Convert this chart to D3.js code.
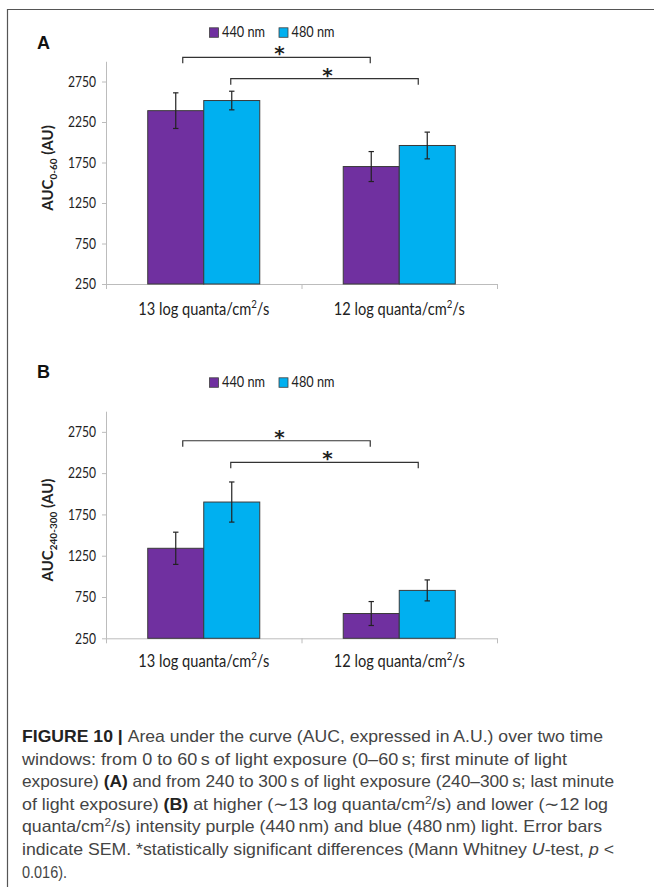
<!DOCTYPE html>
<html>
<head>
<meta charset="utf-8">
<script src="https://cdn.jsdelivr.net/npm/d3@7"></script>
<style>
  html, body { margin: 0; padding: 0; background: #fff; }
  svg { display: block; }
</style>
</head>
<body>
<div id="chart"></div>
<script>
// ---------------- DATA ----------------
const categories = ["13 log quanta/cm2/s", "12 log quanta/cm2/s"];
const series = ["440 nm", "480 nm"];
const seriesColors = ["#7030a0", "#00b0f0"];
const yTicks = [250, 750, 1250, 1750, 2250, 2750];

// Panel A: AUC 0-60
const meanA440 = [2390, 1700];
const meanA480 = [2515, 1960];
const semA440 = [220, 185];
const semA480 = [115, 165];
const bracketLevelsA = [3049, 2785];

// Panel B: AUC 240-300
const meanB440 = [1340, 550];
const meanB480 = [1900, 830];
const semB440 = [195, 145];
const semB480 = [243, 127];
const bracketLevelsB = [2642, 2381];

// significance comparisons: [categoryIndex, seriesIndex] endpoints
const bracketPairs = [
  [[0, 0], [1, 0]],
  [[0, 1], [1, 1]]
];

const captionLines = [
  [["b", "FIGURE 10 | "], ["n", "Area under the curve (AUC, expressed in A.U.) over two time"]],
  [["n", "windows: from 0 to 60\u2009s of light exposure (0\u201360\u2009s; first minute of light"]],
  [["n", "exposure) "], ["b", "(A)"], ["n", " and from 240 to 300\u2009s of light exposure (240\u2013300\u2009s; last minute"]],
  [["n", "of light exposure) "], ["b", "(B)"], ["n", " at higher (\u223C13 log quanta/cm"], ["sup", "2"], ["n", "/s) and lower (\u223C12 log"]],
  [["n", "quanta/cm"], ["sup", "2"], ["n", "/s) intensity purple (440\u2009nm) and blue (480\u2009nm) light. Error bars"]],
  [["n", "indicate SEM. *statistically significant differences (Mann Whitney "], ["i", "U"], ["n", "-test, "], ["i", "p"], ["n", " <"]],
  [["n", "0.016)."]]
];
const captionWidths = [581, 545, 592, 586, 580, 592, 45];

// ---------------- LAYOUT ----------------
const W = 654, H = 887;
const chartFont = "Lato, 'Open Sans', sans-serif";
const capFont = "'Liberation Sans', Arial, sans-serif";

const svg = d3.select("#chart").append("svg")
  .attr("width", W).attr("height", H);

// frame
svg.append("path")
  .attr("d", `M7.5,${H} V9.5 H${W}`)
  .attr("fill", "none").attr("stroke", "#555").attr("stroke-width", 1.2);

const x0 = d3.scaleBand().domain(categories).range([106, 497])
  .paddingInner(0.427).paddingOuter(0.2135);
const x1 = d3.scaleBand().domain(series).range([0, x0.bandwidth()]);

function drawPanel(p) {
  const g = svg.append("g");
  const y = d3.scaleLinear().domain([250, 3000]).range([p.bottom, p.top]);

  // panel letter
  g.append("text").attr("x", 37).attr("y", p.letterY)
    .attr("font-family", capFont).attr("font-weight", "bold")
    .attr("font-size", 18).attr("fill", "#111").text(p.letter);

  // legend
  const leg = g.append("g").attr("transform", `translate(0,${p.legendY})`);
  const legX = [209.5, 279];
  series.forEach((s, i) => {
    leg.append("rect").attr("x", legX[i]).attr("y", -9.5).attr("width", 9).attr("height", 9.5)
      .attr("fill", seriesColors[i]).attr("stroke", "#404040").attr("stroke-width", 0.8);
    leg.append("text").attr("x", legX[i] + 12.5).attr("y", 0)
      .attr("font-family", chartFont).attr("font-size", 16).attr("fill", "#222")
      .attr("textLength", 43).attr("lengthAdjust", "spacingAndGlyphs").text(s);
  });

  // y axis
  const ya = g.append("g").attr("transform", "translate(106,0)")
    .call(d3.axisLeft(y).tickValues(yTicks).tickFormat(d3.format("d"))
      .tickSize(4).tickSizeOuter(0).tickPadding(6));
  ya.select(".domain").attr("stroke", "#bcbcbc");
  ya.selectAll(".tick line").attr("stroke", "#bcbcbc");
  ya.selectAll(".tick text").attr("font-family", chartFont).attr("font-size", 15).attr("fill", "#222")
    .attr("textLength", d => String(d).length * 7).attr("lengthAdjust", "spacingAndGlyphs");

  // x axis (ticks at category boundaries)
  const bscale = d3.scaleLinear().domain([0, 2]).range(x0.range());
  const xa = g.append("g").attr("transform", `translate(0,${p.bottom})`)
    .call(d3.axisBottom(bscale).tickValues([0, 1, 2]).tickSize(5).tickSizeOuter(0).tickFormat(""));
  xa.select(".domain").attr("stroke", "#bcbcbc");
  xa.selectAll(".tick line").attr("stroke", "#bcbcbc");

  // category labels
  categories.forEach(c => {
    const m = c.match(/^(.*cm)2(\/s)$/);
    const t = g.append("text").attr("x", x0(c) + x0.bandwidth() / 2).attr("y", p.catY)
      .attr("text-anchor", "middle").attr("font-family", chartFont).attr("font-size", 17.5).attr("fill", "#222")
      .attr("textLength", 131).attr("lengthAdjust", "spacingAndGlyphs");
    t.append("tspan").text(m[1]);
    t.append("tspan").attr("font-size", 11.5).attr("dy", -7).text("2");
    t.append("tspan").attr("dy", 7).text(m[2]);
  });

  // y label
  const yl = g.append("text")
    .attr("transform", `translate(${p.ylabX},${p.ylabY}) rotate(-90)`)
    .attr("text-anchor", "middle").attr("font-family", chartFont).attr("font-weight", "bold")
    .attr("font-size", 15).attr("fill", "#222");
  yl.append("tspan").text("AUC");
  yl.append("tspan").attr("font-size", 10).attr("dy", 4).text(p.sub);
  yl.append("tspan").attr("dy", -4).text(" (AU)");

  // bars
  const rows = [];
  categories.forEach((c, ci) => {
    series.forEach((s, si) => {
      rows.push({ c, s, ci, si, v: p.means[si][ci], e: p.sems[si][ci] });
    });
  });
  g.selectAll("rect.bar").data(rows).join("rect").attr("class", "bar")
    .attr("x", d => x0(d.c) + x1(d.s))
    .attr("width", x1.bandwidth())
    .attr("y", d => y(d.v))
    .attr("height", d => y(250) - y(d.v))
    .attr("fill", d => seriesColors[d.si])
    .attr("stroke", "#3a3a3a").attr("stroke-width", 1);

  // error bars
  const cx = d => x0(d.c) + x1(d.s) + x1.bandwidth() / 2;
  const eb = g.selectAll("g.err").data(rows).join("g").attr("class", "err")
    .attr("stroke", "#222").attr("stroke-width", 1.2);
  eb.append("line").attr("x1", cx).attr("x2", cx)
    .attr("y1", d => y(d.v + d.e)).attr("y2", d => y(d.v - d.e));
  eb.append("line").attr("x1", d => cx(d) - 2.7).attr("x2", d => cx(d) + 2.7)
    .attr("y1", d => y(d.v + d.e)).attr("y2", d => y(d.v + d.e));
  eb.append("line").attr("x1", d => cx(d) - 2.7).attr("x2", d => cx(d) + 2.7)
    .attr("y1", d => y(d.v - d.e)).attr("y2", d => y(d.v - d.e));

  // significance brackets
  const barC = (ci, si) => x0(categories[ci]) + x1(series[si]) + x1.bandwidth() / 2;
  const offs = [[7, -1], [-1, -9]];
  bracketPairs.forEach((bp, k) => {
    const xa_ = barC(bp[0][0], bp[0][1]) + offs[k][0];
    const xb_ = barC(bp[1][0], bp[1][1]) + offs[k][1];
    const yy = y(p.brackets[k]);
    g.append("path")
      .attr("d", `M${xa_},${yy + 6} V${yy} H${xb_} V${yy + 6}`)
      .attr("fill", "none").attr("stroke", "#333").attr("stroke-width", 1.2);
    g.append("text").attr("x", (xa_ + xb_) / 2 + 3).attr("y", yy + 3)
      .attr("text-anchor", "middle").attr("font-family", "'DejaVu Sans', sans-serif")
      .attr("font-weight", "bold").attr("font-size", 20).attr("fill", "#222").text("*");
  });
}

drawPanel({
  letter: "A", letterY: 49, legendY: 37.3, top: 61.25, bottom: 284, catY: 315,
  ylabX: 53, ylabY: 168, sub: "0-60",
  means: [meanA440, meanA480], sems: [semA440, semA480], brackets: bracketLevelsA
});
drawPanel({
  letter: "B", letterY: 378.3, legendY: 387.3, top: 411.2, bottom: 638.3, catY: 667,
  ylabX: 53, ylabY: 530, sub: "240-300",
  means: [meanB440, meanB480], sems: [semB440, semB480], brackets: bracketLevelsB
});

// caption
const cap = svg.append("g");
captionLines.forEach((line, i) => {
  const t = cap.append("text").attr("x", 22).attr("y", 742 + i * 22.6)
    .attr("font-family", capFont).attr("font-size", 16.5).attr("fill", "#444")
    .attr("textLength", captionWidths[i]).attr("lengthAdjust", "spacingAndGlyphs");
  line.forEach(([kind, str]) => {
    const ts = t.append("tspan").text(str);
    if (kind === "b") ts.attr("font-weight", "bold").attr("fill", "#222");
    if (kind === "i") ts.attr("font-style", "italic");
    if (kind === "sup") ts.attr("font-size", 11).attr("baseline-shift", "super");
  });
});
</script>
</body>
</html>
